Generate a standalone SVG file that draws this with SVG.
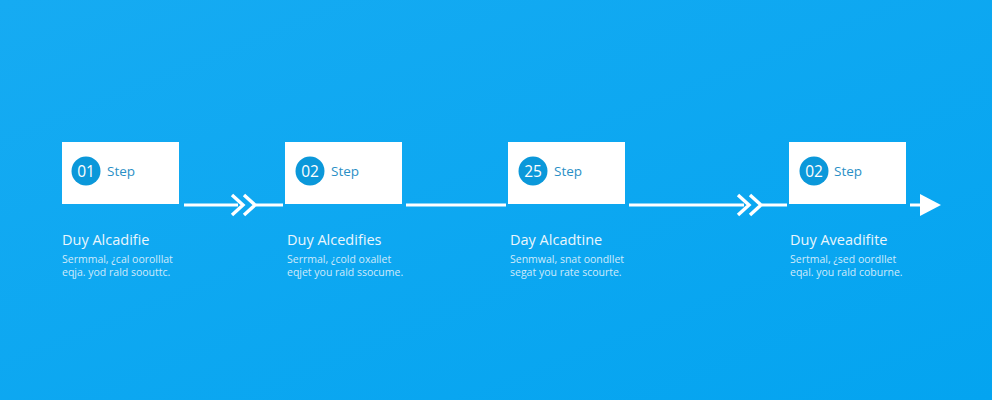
<svg xmlns="http://www.w3.org/2000/svg" width="992" height="400" viewBox="0 0 992 400">
<defs>
<linearGradient id="bg" x1="0" y1="0" x2="1" y2="1">
<stop offset="0" stop-color="#16abf2"/>
<stop offset="1" stop-color="#04a4f0"/>
</linearGradient>
</defs>
<style>
.box{fill:#ffffff}
.num{fill:#0b98da}
.numt{font-family:"Open Sans","Liberation Sans",sans-serif;font-size:15.5px;fill:#ffffff;text-anchor:middle}
.step{font-family:"Open Sans","Liberation Sans",sans-serif;font-size:13.5px;fill:#2a8fc6}
.title{font-family:"Open Sans","Liberation Sans",sans-serif;font-size:14.5px;fill:#eaf6fd}
.desc{font-family:"Open Sans","Liberation Sans",sans-serif;font-size:10.5px;fill:#cfeafb}
.ln{stroke:#ffffff;stroke-width:3;fill:none}
.chev{stroke:#ffffff;stroke-width:3.4;fill:none;stroke-linejoin:miter}
</style>
<rect width="992" height="400" fill="url(#bg)"/>
<g id="connectors">
<line class="ln" x1="184" y1="205" x2="238" y2="205"/>
<polyline class="chev" points="232,195 243,205 232,215"/>
<polyline class="chev" points="244,195 255,205 244,215"/>
<line class="ln" x1="256" y1="205" x2="283" y2="205"/>
<line class="ln" x1="406" y1="205" x2="506" y2="205"/>
<line class="ln" x1="629" y1="205" x2="744" y2="205"/>
<polyline class="chev" points="738,195 749,205 738,215"/>
<polyline class="chev" points="750,195 761,205 750,215"/>
<line class="ln" x1="762" y1="205" x2="787" y2="205"/>
<line class="ln" x1="910" y1="205" x2="923" y2="205"/>
<polygon points="920,194 941,205 920,216" fill="#ffffff"/>
</g>
<g id="node1">
<rect class="box" x="62" y="142" width="117" height="62"/>
<circle class="num" cx="86" cy="171" r="14.5"/>
<text class="numt" x="86" y="176.500">01</text>
<text class="step" x="107" y="176">Step</text>
<text class="title" x="62" y="245">Duy Alcadifie</text>
<text class="desc" x="62" y="263">Sermmal, ¿cal oorolllat</text>
<text class="desc" x="62" y="276">eqja. yod rald soouttc.</text>
</g>
<g id="node2">
<rect class="box" x="285" y="142" width="117" height="62"/>
<circle class="num" cx="310" cy="171" r="14.5"/>
<text class="numt" x="310" y="176.500">02</text>
<text class="step" x="331" y="176">Step</text>
<text class="title" x="287" y="245">Duy Alcedifies</text>
<text class="desc" x="287" y="263">Serrmal, ¿cold oxallet</text>
<text class="desc" x="287" y="276">eqjet you rald ssocume.</text>
</g>
<g id="node3">
<rect class="box" x="508" y="142" width="117" height="62"/>
<circle class="num" cx="533" cy="171" r="14.5"/>
<text class="numt" x="533" y="176.500">25</text>
<text class="step" x="554" y="176">Step</text>
<text class="title" x="510" y="245">Day Alcadtine</text>
<text class="desc" x="510" y="263">Senmwal, snat oondllet</text>
<text class="desc" x="510" y="276">segat you rate scourte.</text>
</g>
<g id="node4">
<rect class="box" x="789" y="142" width="117" height="62"/>
<circle class="num" cx="814" cy="171" r="14.5"/>
<text class="numt" x="814" y="176.500">02</text>
<text class="step" x="834" y="176">Step</text>
<text class="title" x="790" y="245">Duy Aveadifite</text>
<text class="desc" x="790" y="263">Sertmal, ¿sed oordllet</text>
<text class="desc" x="790" y="276">eqal. you rald coburne.</text>
</g>
</svg>
